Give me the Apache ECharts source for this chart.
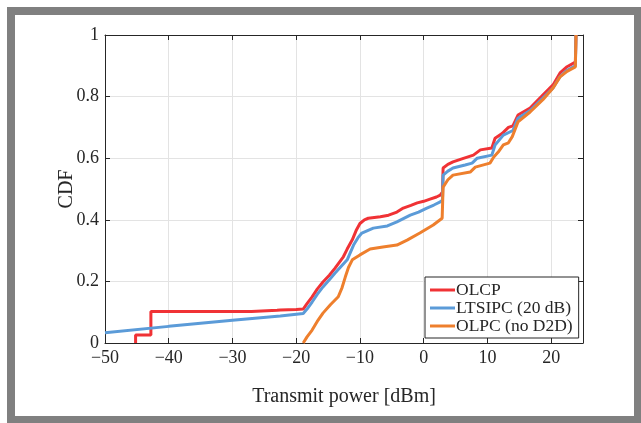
<!DOCTYPE html>
<html>
<head>
<meta charset="utf-8">
<script src="https://cdn.jsdelivr.net/npm/echarts@6/dist/echarts.min.js"></script>
<style>
  html, body { margin: 0; padding: 0; background: #fff; }
  #chart { width: 641px; height: 423px; }
</style>
</head>
<body>
<div id="chart"></div>
<script>
// 数据 (x: dBm, y: CDF)
const olcp = [
  [-45.2, 0], [-45.2, 0.026], [-42.8, 0.026], [-42.8, 0.102], [-27, 0.102], [-26.8, 0.104],
  [-23, 0.106], [-22.5, 0.107], [-20, 0.109], [-18.9, 0.11], [-18.3, 0.128], [-17.5, 0.15],
  [-16.7, 0.175], [-15.8, 0.198], [-14.8, 0.22], [-13.9, 0.243], [-12.6, 0.28], [-12, 0.305],
  [-11.2, 0.335], [-10.6, 0.365], [-10, 0.388], [-9.3, 0.4], [-8.7, 0.405], [-6.8, 0.41],
  [-5.5, 0.415], [-4.2, 0.425], [-3.2, 0.438], [-2, 0.447], [-1, 0.455], [0, 0.46],
  [1, 0.467], [2, 0.474], [2.6, 0.48], [2.95, 0.49], [3.05, 0.568], [3.8, 0.58],
  [4.6, 0.588], [6, 0.598], [7.8, 0.61], [8.9, 0.627], [10.7, 0.633], [11.2, 0.665],
  [12.3, 0.68], [13.3, 0.7], [14, 0.705], [14.8, 0.74], [16.7, 0.763], [18.7, 0.805],
  [20.3, 0.838], [21.4, 0.877], [22.5, 0.897], [23.8, 0.912], [23.9, 1]
];

const ltsipc = [
  [-50, 0.033], [-40, 0.054], [-30, 0.074], [-22.5, 0.088], [-18.9, 0.096], [-18.3, 0.11],
  [-17.5, 0.133], [-16.7, 0.158], [-15.8, 0.182], [-14.8, 0.205], [-13.9, 0.227], [-12, 0.27],
  [-11, 0.318], [-10.3, 0.342], [-9.7, 0.357], [-7.9, 0.373], [-5.7, 0.38], [-4.2, 0.393],
  [-2.1, 0.415], [-0.8, 0.425], [0.5, 0.438], [1.6, 0.448], [2.6, 0.458], [2.95, 0.464],
  [3.05, 0.545], [3.8, 0.558], [4.6, 0.568], [6.5, 0.578], [7.6, 0.584], [8.4, 0.6],
  [10.7, 0.61], [11.2, 0.643], [12.5, 0.675], [14, 0.69], [14.8, 0.73], [16.7, 0.755],
  [18.7, 0.795], [20.3, 0.828], [21.4, 0.865], [22.5, 0.885], [23.8, 0.9], [23.9, 1]
];

const olpc = [
  [-18.9, 0], [-18.3, 0.02], [-17.5, 0.042], [-16.7, 0.07], [-15.8, 0.097], [-14.6, 0.125],
  [-13.4, 0.15], [-12.8, 0.18], [-12.3, 0.214], [-11.8, 0.245], [-11.2, 0.27], [-10, 0.286],
  [-8.4, 0.305], [-6.4, 0.312], [-4.2, 0.318], [-2.6, 0.334], [-0.6, 0.357], [1.5, 0.383],
  [2.9, 0.405], [3.05, 0.506], [3.8, 0.53], [4.6, 0.545], [7.3, 0.555], [8.1, 0.571],
  [10.4, 0.584], [11, 0.604], [11.7, 0.62], [12.5, 0.643], [13.3, 0.65], [13.9, 0.67],
  [14.8, 0.718], [16.7, 0.75], [18.7, 0.79], [20.3, 0.828], [21.4, 0.864], [22.5, 0.882],
  [23.8, 0.896], [23.9, 1]
];

const seriesNames = ["OLCP", "LTSIPC (20 dB)", "OLPC (no D2D)"];
const seriesColors = ["#F03235", "#5B9BD8", "#EE7F2D"];

const font = "Liberation Serif";
const myChart = echarts.init(document.querySelector("#chart"));

const axisBase = {
  type: "value",
  axisLine: { show: true, onZero: false, lineStyle: { color: "#262626", width: 1 } },
  axisTick: { show: true, inside: true, length: 5, lineStyle: { color: "#262626" } },
};

myChart.setOption({
  animation: false,
  grid: { left: 105, top: 35, right: 58, bottom: 80 },
  xAxis: [
    {
      ...axisBase,
      min: -50, max: 25, interval: 10,
      name: "Transmit power [dBm]",
      nameLocation: "middle",
      nameGap: 44,
      nameMoveOverlap: false,
      nameTextStyle: { fontFamily: font, fontSize: 20, color: "#262626" },
      axisLabel: {
        fontFamily: font, fontSize: 18, color: "#262626", margin: 6,
        formatter: (v) => (v > 20 ? "" : String(v).replace("-", "\u2212")),
      },
      splitLine: { show: true, lineStyle: { color: "#e3e3e3", width: 1 } },
    },
    {
      ...axisBase,
      position: "top",
      min: -50, max: 25, interval: 10,
      axisLabel: { show: false },
      splitLine: { show: false },
    },
  ],
  yAxis: [
    {
      ...axisBase,
      min: 0, max: 1, interval: 0.2,
      name: "CDF",
      nameLocation: "middle",
      nameGap: 28,
      nameMoveOverlap: false,
      nameTextStyle: { fontFamily: font, fontSize: 20, color: "#262626" },
      axisLabel: {
        fontFamily: font, fontSize: 18, color: "#262626", margin: 6,
        formatter: (v) => (v === 0 || v === 1 ? String(v) : v.toFixed(1)),
      },
      splitLine: { show: true, lineStyle: { color: "#e3e3e3", width: 1 } },
    },
    {
      ...axisBase,
      position: "right",
      min: 0, max: 1, interval: 0.2,
      axisLabel: { show: false },
      splitLine: { show: false },
    },
  ],
  legend: {
    orient: "vertical",
    left: 425,
    top: 277,
    width: 152,
    padding: [4, 6, 3, 5],
    itemGap: 0,
    itemWidth: 25,
    itemHeight: 3,
    icon: "rect",
    borderColor: "#262626",
    borderWidth: 1,
    backgroundColor: "#fff",
    textStyle: { fontFamily: font, fontSize: 17.5, color: "#262626", padding: [0, 0, 0, -4] },
    data: seriesNames,
  },
  series: [olcp, ltsipc, olpc].map((d, i) => ({
    name: seriesNames[i],
    type: "line",
    data: d,
    showSymbol: false,
    symbol: "none",
    color: seriesColors[i],
    lineStyle: { width: 3, color: seriesColors[i] },
    z: 2 + i,
  })),
  graphic: [
    {
      type: "rect",
      shape: { x: 11, y: 11, width: 627, height: 409 },
      style: { fill: "none", stroke: "#808080", lineWidth: 8 },
      silent: true,
    },
  ],
});
</script>
</body>
</html>
